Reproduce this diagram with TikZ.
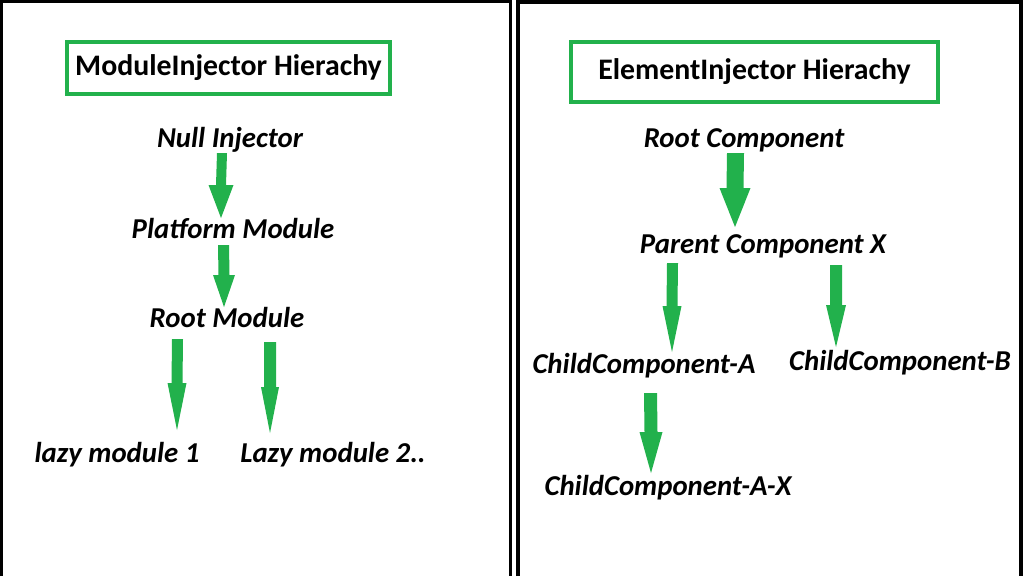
\documentclass[tikz,border=0pt]{standalone}
\usepackage{fontspec}
\setmainfont{Carlito}
\usetikzlibrary{calc}
\definecolor{pgreen}{RGB}{34,177,76}
% block arrow from a named start point to a named tip point
% #1 start, #2 tip, #3 shaft half width, #4 head half width, #5 head length
\newcommand\blockarr[5]{%
  \fill[pgreen] ($(#1)+(-#3,0)$) -- ($(#2)+(-#3,-#5)$) -- ($(#2)+(-#4,-#5)$) -- (#2)
    -- ($(#2)+(#4,-#5)$) -- ($(#2)+(#3,-#5)$) -- ($(#1)+(#3,0)$) -- cycle;}
\begin{document}
\begin{tikzpicture}[x=1pt,y=-1pt,
  panel/.style={draw=black,line cap=butt,line join=miter},
  titlebox/.style={draw=pgreen,line width=4pt,inner sep=0pt,
    font=\fontsize{29.8}{32}\selectfont\bfseries},
  lbl/.style={anchor=base,inner sep=0pt,
    font=\fontsize{28.8}{30}\selectfont\bfseries\itshape}]
\useasboundingbox[fill=white] (0,0) rectangle (1024,576);
% panels
\draw[panel,line width=3pt] (1.5,576) -- (1.5,1.2) -- (510.5,1.2) -- (510.5,576);
\draw[panel,line width=4.5pt] (518,576) -- (518,2) -- (1021,2) -- (1021,576);
% titles
\node[titlebox,minimum width=323pt,minimum height=52pt] (t1) at (228.5,68) {ModuleInjector Hierachy};
\node[titlebox,minimum width=367pt,minimum height=60pt] (t2) at (754.5,72) {ElementInjector Hierachy};
% left hierarchy
\node[lbl] (null) at (230,147) {Null Injector};
\node[lbl] (plat) at (233,238) {Platform Module};
\node[lbl] (rootm) at (227,327) {Root Module};
\node[lbl] (lazy1) at (117,462) {lazy module 1};
\node[lbl] (lazy2) at (333,462) {Lazy module 2..};
% right hierarchy
\node[lbl] (rootc) at (744,147) {Root Component};
\node[lbl] (parent) at (763,253) {Parent Component X};
\node[lbl] (childA) at (644,373) {ChildComponent-A};
\node[lbl] (childB) at (900,370) {ChildComponent-B};
\node[lbl] (childAX) at (668,495) {ChildComponent-A-X};
% arrow end points
\coordinate (a1s) at (222,153);   \coordinate (a1t) at (221,218);
\coordinate (a2s) at (223.5,245); \coordinate (a2t) at (224,307);
\coordinate (a3s) at (177.5,339); \coordinate (a3t) at (177,430);
\coordinate (a4s) at (270,342);   \coordinate (a4t) at (270,433);
\coordinate (a5s) at (735.5,153); \coordinate (a5t) at (735,227);
\coordinate (a6s) at (672.5,263); \coordinate (a6t) at (672,352);
\coordinate (a7s) at (836,265);   \coordinate (a7t) at (836,347);
\coordinate (a8s) at (650.5,393); \coordinate (a8t) at (651,473);
% arrows
\blockarr{a1s}{a1t}{5}{12.5}{33}
\blockarr{a2s}{a2t}{5.5}{11}{32}
\blockarr{a3s}{a3t}{5.5}{9.5}{47}
\blockarr{a4s}{a4t}{6}{9}{46}
\blockarr{a5s}{a5t}{8.5}{15.5}{39}
\blockarr{a6s}{a6t}{5.5}{9.5}{46}
\blockarr{a7s}{a7t}{6}{10}{42}
\blockarr{a8s}{a8t}{6.5}{11.5}{41}
\end{tikzpicture}
\end{document}
